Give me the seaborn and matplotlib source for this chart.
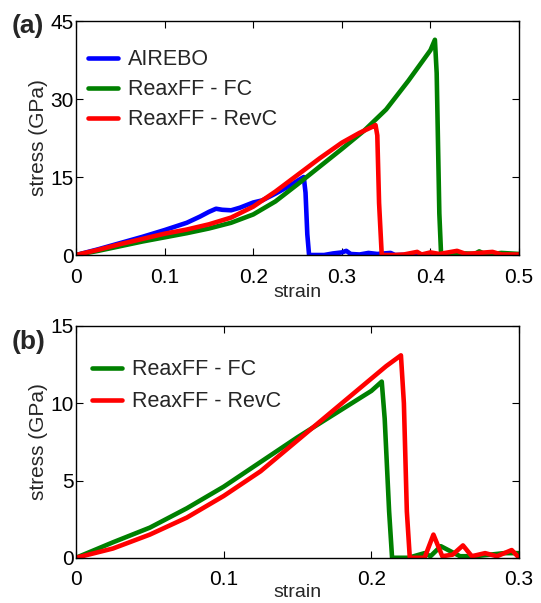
import seaborn as sns
import matplotlib.pyplot as plt

# ── panel (a) data: strain / stress (GPa) ──
a_airebo_x = [0, 0.025, 0.05, 0.075, 0.1, 0.125, 0.14, 0.15, 0.158, 0.165, 0.175, 0.185, 0.2,
              0.21, 0.225, 0.24, 0.25, 0.257, 0.259, 0.261, 0.263, 0.28, 0.29, 0.3, 0.305, 0.31,
              0.32, 0.33, 0.34, 0.355, 0.36, 0.4, 0.45, 0.5]
a_airebo_y = [0, 1.1, 2.3, 3.5, 4.8, 6.2, 7.4, 8.3, 8.9, 8.7, 8.6, 9.1, 10.1,
              10.5, 11.8, 13.2, 14.3, 15.0, 12.0, 4.0, 0, 0, 0.3, 0.5, 0.8, 0.2,
              0.1, 0.4, 0.2, 0.4, 0, 0.1, 0.1, 0.1]

a_fc_x = [0, 0.025, 0.05, 0.075, 0.1, 0.125, 0.15, 0.175, 0.2, 0.225, 0.25, 0.275, 0.3, 0.325,
          0.35, 0.375, 0.4, 0.405, 0.407, 0.41, 0.412, 0.42, 0.44, 0.45, 0.455, 0.46, 0.47,
          0.48, 0.5]
a_fc_y = [0, 0.8, 1.7, 2.6, 3.4, 4.2, 5.1, 6.2, 7.8, 10.3, 13.6, 17.0, 20.4, 23.9,
          28.0, 33.5, 39.4, 41.4, 35.0, 8.0, 0, 0.1, 0.3, 0.2, 0.7, 0.3, 0.2,
          0.4, 0.2]

a_revc_x = [0, 0.025, 0.05, 0.075, 0.1, 0.125, 0.15, 0.175, 0.2, 0.225, 0.25, 0.275, 0.3,
            0.32, 0.335, 0.338, 0.34, 0.342, 0.345, 0.36, 0.37, 0.385, 0.39, 0.4, 0.41, 0.43,
            0.44, 0.47, 0.48, 0.5]
a_revc_y = [0, 1.0, 2.1, 3.1, 4.1, 4.9, 5.9, 7.2, 9.3, 12.2, 15.4, 18.6, 21.6,
            23.5, 24.7, 25.0, 23.0, 10.0, 0, 0, 0.1, 0.6, 0.1, 0.5, 0.2, 0.8,
            0.2, 0.6, 0.1, 0.1]

# ── panel (b) data ──
b_fc_x = [0, 0.025, 0.05, 0.075, 0.1, 0.125, 0.15, 0.175, 0.2, 0.207, 0.209, 0.212, 0.214,
          0.225, 0.236, 0.24, 0.247, 0.252, 0.26, 0.27, 0.28, 0.29, 0.3]
b_fc_y = [0, 1.0, 1.95, 3.2, 4.6, 6.2, 7.8, 9.3, 10.8, 11.4, 9.0, 3.0, 0,
          0, 0.3, 0.1, 0.75, 0.5, 0.1, 0.1, 0.2, 0.3, 0.3]

b_revc_x = [0, 0.025, 0.05, 0.075, 0.1, 0.125, 0.15, 0.175, 0.2, 0.21, 0.22, 0.222, 0.224,
            0.226, 0.236, 0.242, 0.248, 0.255, 0.262, 0.268, 0.277, 0.285, 0.295, 0.3]
b_revc_y = [0, 0.6, 1.5, 2.6, 4.0, 5.6, 7.6, 9.6, 11.6, 12.4, 13.1, 10.0, 3.0,
            0, 0, 1.5, 0.1, 0.2, 0.8, 0.1, 0.3, 0.1, 0.5, 0]

blue, green, red = (0, 0, 1), (0, 0.5, 0), (1, 0, 0)

sns.set_style("ticks")
plt.rcParams['font.family'] = ['Liberation Sans', 'DejaVu Sans']

fig = plt.figure(figsize=(5.41, 6.03), dpi=100)
ax1 = fig.add_axes([0.1405, 0.5771, 0.819, 0.388])
ax2 = fig.add_axes([0.1405, 0.075, 0.819, 0.3844])

for xs, ys, c, lab in [(a_airebo_x, a_airebo_y, blue, 'AIREBO'),
                       (a_fc_x, a_fc_y, green, 'ReaxFF - FC'),
                       (a_revc_x, a_revc_y, red, 'ReaxFF - RevC')]:
    sns.lineplot(x=xs, y=ys, ax=ax1, color=c, lw=3.3, label=lab, sort=False, estimator=None)

for xs, ys, c, lab in [(b_fc_x, b_fc_y, green, 'ReaxFF - FC'),
                       (b_revc_x, b_revc_y, red, 'ReaxFF - RevC')]:
    sns.lineplot(x=xs, y=ys, ax=ax2, color=c, lw=3.3, label=lab, sort=False, estimator=None)

ax1.set_xlim(0, 0.5)
ax1.set_ylim(0, 45)
ax1.set_xticks([0, 0.1, 0.2, 0.3, 0.4, 0.5])
ax1.set_xticklabels(['0', '0.1', '0.2', '0.3', '0.4', '0.5'])
ax1.set_yticks([0, 15, 30, 45])
ax2.set_xlim(0, 0.3)
ax2.set_ylim(0, 15)
ax2.set_xticks([0, 0.1, 0.2, 0.3])
ax2.set_xticklabels(['0', '0.1', '0.2', '0.3'])
ax2.set_yticks([0, 5, 10, 15])

for ax in (ax1, ax2):
    ax.tick_params(direction='in', top=True, right=True, length=5, width=0.8,
                   labelsize=15, colors='black')
    ax.tick_params(axis='x', pad=9)
    ax.tick_params(axis='y', pad=1.5)
    for s in ax.spines.values():
        s.set_linewidth(1.0)
        s.set_color('black')
    ax.set_ylabel('stress (GPa)', fontsize=15, labelpad=2)
ax1.set_xlabel('strain', fontsize=14, labelpad=-2)
ax2.set_xlabel('strain', fontsize=14, labelpad=-4)

ax1.legend(loc='upper left', bbox_to_anchor=(0.027, 0.879), frameon=False, fontsize=15.5,
           handlelength=1.4, handletextpad=0.46, labelspacing=0.42,
           borderpad=0, borderaxespad=0)
ax2.legend(loc='upper left', bbox_to_anchor=(0.036, 0.857), frameon=False, fontsize=15.5,
           handlelength=1.4, handletextpad=0.46, labelspacing=0.51,
           borderpad=0, borderaxespad=0)

fig.text(0.022, 0.957, '(a)', fontsize=19, fontweight='bold', va='center')
fig.text(0.022, 0.433, '(b)', fontsize=19, fontweight='bold', va='center')

plt.savefig('out.png', dpi=100)
plt.close()
